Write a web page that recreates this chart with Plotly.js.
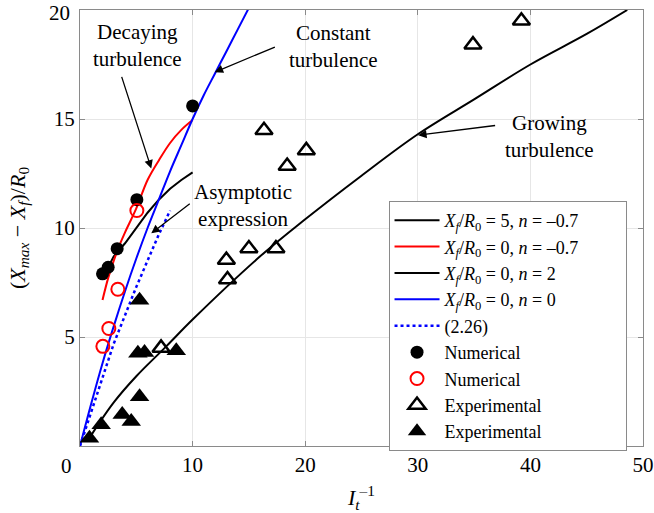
<!DOCTYPE html>
<html>
<head>
<meta charset="utf-8">
<script src="https://cdn.plot.ly/plotly-3.0.1.min.js"></script>
<style>html,body{margin:0;padding:0;background:#fff;}#chart{width:654px;height:513px;}</style>
</head>
<body>
<div id="chart"></div>
<script>
// ---- Data ----
// Xf/R0 = 5, n = -0.7 (short black curve)
const curveA_x = [2.5, 3, 4, 5, 6, 7, 8, 9, 10];
const curveA_y = [8.2, 8.7, 9.3, 10.0, 10.7, 11.3, 11.8, 12.2, 12.55];
// Xf/R0 = 0, n = -0.7 (red, decaying)
const curveB_x = [2.0, 2.5, 3.0, 3.5, 4.0, 5.0, 6.0, 7.0, 8.0, 9.0, 10.0];
const curveB_y = [6.7, 7.7, 8.5, 9.2, 9.8, 10.9, 12.2, 13.1, 13.9, 14.5, 14.95];
// Xf/R0 = 0, n = 2 (long black curve, growing)
const curveC_x = [1.0, 3, 5, 7.66, 10, 16, 20, 25, 30, 35, 40, 45, 48.6];
const curveC_y = [0.5, 2.0, 3.2, 4.57, 5.8, 8.7, 10.4, 12.4, 14.3, 15.9, 17.5, 18.9, 20.0];
// Xf/R0 = 0, n = 0 (blue, constant)
const curveD_x = [0, 1, 2, 3, 4, 5, 6, 7, 8, 9, 10, 11, 12, 13, 14, 15];
const curveD_y = [0, 1.95, 3.8, 5.5, 7.1, 8.6, 10.0, 11.3, 12.6, 13.8, 15.0, 16.1, 17.1, 18.1, 19.1, 20.1];
// (2.26) asymptotic expression (blue dotted)
const asymX = [0, 1, 2, 3, 4, 5, 6, 7, 8];
const asymY = [0, 1.6, 3.2, 4.7, 6.0, 7.3, 8.5, 9.7, 10.8];
// Numerical (filled black circles)
const numFilledX = [2.0, 2.5, 3.3, 5.05, 10.0];
const numFilledY = [7.9, 8.2, 9.05, 11.3, 15.6];
// Numerical (open red circles)
const numOpenX = [2.03, 2.56, 3.36, 5.05];
const numOpenY = [4.57, 5.39, 7.19, 10.8];
// Experimental (open triangles)
const expOpenX = [7.2, 13.0, 13.1, 15.0, 17.4, 18.4, 20.1, 16.34, 34.9, 39.2];
const expOpenY = [4.5, 8.53, 7.64, 9.06, 9.06, 12.84, 13.56, 14.48, 18.41, 19.51];
// Experimental (filled triangles)
const expFilledX = [0.84, 1.88, 3.75, 4.55, 5.29, 5.14, 5.73, 8.55, 5.29];
const expFilledY = [0.36, 0.97, 1.45, 1.12, 2.26, 4.25, 4.29, 4.37, 6.69];

// axis tick labels
const xTickVals = [10, 20, 30, 40, 50];
const yTickVals = [5, 10, 15, 20];
const yTickText = ['5', '10', '15', ''];

const legendNames = [
  '<i>X<sub>f</sub></i>/<i>R</i><sub>0</sub> = 5, <i>n</i> = –0.7',
  '<i>X<sub>f</sub></i>/<i>R</i><sub>0</sub> = 0, <i>n</i> = –0.7',
  '<i>X<sub>f</sub></i>/<i>R</i><sub>0</sub> = 0, <i>n</i> = 2',
  '<i>X<sub>f</sub></i>/<i>R</i><sub>0</sub> = 0, <i>n</i> = 0',
  '(2.26)',
  'Numerical',
  'Numerical',
  'Experimental',
  'Experimental'
];
const legendPad = '&nbsp;'.repeat(9);

const FONT = 'Liberation Serif';

const traces = [
  {x: curveA_x, y: curveA_y, mode: 'lines', name: legendNames[0] + legendPad, line: {color: '#000', width: 2}},
  {x: curveB_x, y: curveB_y, mode: 'lines', name: legendNames[1], line: {color: '#ff0000', width: 2, shape: 'spline'}},
  {x: curveC_x, y: curveC_y, mode: 'lines', name: legendNames[2], line: {color: '#000', width: 2, shape: 'spline'}},
  {x: curveD_x, y: curveD_y, mode: 'lines', name: legendNames[3], line: {color: '#0000ff', width: 2, shape: 'spline'}},
  {x: asymX, y: asymY, mode: 'lines', name: legendNames[4], line: {color: '#0000ff', width: 2.5, dash: 'dot'}},
  {x: numFilledX, y: numFilledY, mode: 'markers', name: legendNames[5], cliponaxis: false,
   marker: {symbol: 'circle', size: 13, color: '#000'}},
  {x: numOpenX, y: numOpenY, mode: 'markers', name: legendNames[6], cliponaxis: false,
   marker: {symbol: 'circle-open', size: 13, color: '#ff0000', line: {width: 2, color: '#ff0000'}}},
  {x: expOpenX, y: expOpenY, mode: 'markers', name: legendNames[7], cliponaxis: false,
   marker: {symbol: 'triangle-up-open', size: 15, color: '#000', line: {width: 2.5, color: '#000'}}},
  {x: expFilledX, y: expFilledY, mode: 'markers', name: legendNames[8], cliponaxis: false,
   marker: {symbol: 'triangle-up', size: 17, color: '#000'}}
];

const arrow = (x, y, ax, ay) => ({x: x, y: y, ax: ax, ay: ay, xref: 'x', yref: 'y', axref: 'x', ayref: 'y',
  text: '', showarrow: true, arrowhead: 2, arrowsize: 1.3, arrowwidth: 1.3, arrowcolor: '#000', standoff: 0, startstandoff: 0});
const label = (x, y, t) => ({x: x, y: y, xref: 'x', yref: 'y', text: t, showarrow: false,
  font: {family: FONT, size: 21, color: '#000'}, align: 'center', xanchor: 'center', yanchor: 'middle'});

const layout = {
  width: 654, height: 513,
  margin: {l: 80, r: 11, t: 10, b: 67},
  paper_bgcolor: '#fff', plot_bgcolor: '#fff',
  font: {family: FONT, size: 21, color: '#000'},
  showlegend: true,
  legend: {x: 0.548, y: 0.562, xanchor: 'left', yanchor: 'top', bgcolor: '#fff',
           bordercolor: '#8a8a8a', borderwidth: 1, font: {family: FONT, size: 18, color: '#000'},
           tracegroupgap: 0, itemwidth: 45},
  xaxis: {range: [0, 50], tickvals: xTickVals, ticks: 'inside', ticklen: 5, tickcolor: '#8a8a8a',
          showline: true, linecolor: '#8a8a8a', linewidth: 1, mirror: 'allticks',
          showgrid: true, gridcolor: '#e6e6e6', gridwidth: 1, zeroline: false, ticklabeloverflow: 'allow',
          tickfont: {family: FONT, size: 21, color: '#000'},
          title: {text: '<i>I<sub>t</sub></i><sup>–1</sup>', font: {family: FONT, size: 22, color: '#000'}, standoff: 13}},
  yaxis: {range: [0, 20], tickvals: yTickVals, ticktext: yTickText, ticks: 'inside', ticklen: 5, tickcolor: '#8a8a8a',
          showline: true, linecolor: '#8a8a8a', linewidth: 1, mirror: 'allticks',
          showgrid: true, gridcolor: '#e6e6e6', gridwidth: 1, zeroline: false, ticklabeloverflow: 'allow',
          tickfont: {family: FONT, size: 21, color: '#000'},
          title: {text: '(<i>X<sub>max</sub></i> − <i>X<sub>f</sub></i>)/<i>R</i><sub>0</sub>', font: {family: FONT, size: 22, color: '#000'}, standoff: 22}},
  annotations: [
    {x: -0.024, y: 0, xref: 'paper', yref: 'paper', text: '0', showarrow: false, xanchor: 'center', yanchor: 'top',
     yshift: -6, font: {family: FONT, size: 21, color: '#000'}},
    {x: -0.0125, y: 1, xref: 'paper', yref: 'paper', text: '20', showarrow: false, xanchor: 'right', yanchor: 'middle',
     yshift: -3, xshift: -1, font: {family: FONT, size: 21, color: '#000'}},
    label(5.14, 18.36, 'Decaying<br>turbulence'),
    label(22.47, 18.34, 'Constant<br>turbulence'),
    label(14.44, 11.03, 'Asymptotic<br>expression'),
    label(41.73, 14.22, 'Growing<br>turbulence'),
    arrow(6.33, 12.73, 3.66, 17.0),
    arrow(11.96, 17.15, 17.44, 18.33),
    arrow(6.33, 9.76, 9.88, 11.16),
    arrow(30.03, 14.26, 37.0, 14.71)
  ]
};

Plotly.newPlot('chart', traces, layout, {displayModeBar: false, staticPlot: true});
</script>
</body>
</html>
